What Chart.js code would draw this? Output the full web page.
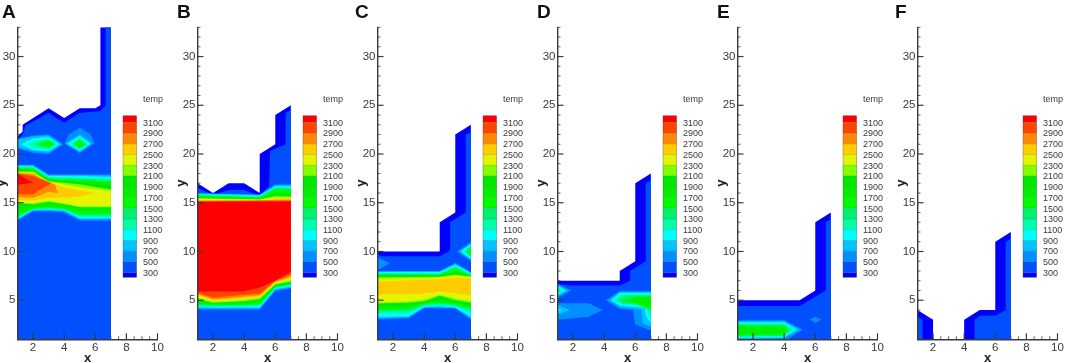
<!DOCTYPE html>
<html lang="en">
<head>
<meta charset="UTF-8">
<title>Temperature contours</title>
<style>
    body { margin: 0; background: #fff; overflow: hidden; }
    #page { position: relative; width: 1065px; height: 363px; overflow: hidden; }
    canvas { position: absolute; top: 0; filter: blur(0.45px); }
</style>
</head>
<body>
<div id="page"></div>
<script src="https://cdn.jsdelivr.net/npm/chart.js"></script>
<script>
const letters = ['A', 'B', 'C', 'D', 'E', 'F'];
const xTicks = [2, 4, 6, 8, 10];
const yTicks = [5, 10, 15, 20, 25, 30];
const xMinor = [1.5, 2.5, 3, 3.5, 4.5, 5, 5.5, 6.5, 7, 7.5, 8.5, 9, 9.5];
const yMinor = [2, 3, 4, 6, 7, 8, 9, 11, 12, 13, 14, 16, 17, 18, 19, 21, 22, 23, 24, 26, 27, 28, 29, 31, 32, 33];
const levels = [3100, 2900, 2700, 2500, 2300, 2100, 1900, 1700, 1500, 1300, 1100, 900, 700, 500, 300];

// band colour by lower temperature of the band, 100 = below 300
const bandColors = {
    3100: '#ff0000', 2900: '#ff4400', 2700: '#ff8800', 2500: '#ffcc00', 2300: '#e4f500',
    2100: '#80ff00', 1900: '#00e800', 1700: '#00f000', 1500: '#00fa00', 1300: '#00f070',
    1100: '#00ffaa', 900: '#00ffff', 700: '#00c4ff', 500: '#0090ff', 300: '#0050ff', 100: '#0000ff'
};

// contour regions: [band, [x, y, x, y, ...]], painted in this order
const bandsA = [
    [100, [1,1, 7,1, 7,33, 6.33,33, 6.33,25, 6,24.7, 5,24.7, 4,23.7, 3,24.7, 1.33,23, 1.33,22.3, 1,21.8]],
    [300, [1,1, 7,1, 7,33, 6.67,33, 6.67,25, 6.33,24.4, 5,24.2, 4,23.2, 3,24.2, 1.5,22.9, 1.33,22, 1,21.4]],
    [500, [1,21.6, 2,21.9, 3,22, 3.95,21, 3,20, 2,20.1, 1,20.6]],
    [700, [1,21.5, 2,21.8, 3,21.9, 3.85,21, 3,20.15, 2,20.3, 1,20.7]],
    [900, [1.2,21, 2,21.6, 3,21.75, 3.7,21, 3,20.3, 2,20.4]],
    [1100, [1.6,21, 2.2,21.4, 3,21.6, 3.55,21, 3,20.45, 2.2,20.6]],
    [1300, [2,21, 2.5,21.3, 3,21.45, 3.45,21, 3,20.6, 2.5,20.75]],
    [1500, [2.3,21, 3,21.35, 3.4,21, 3,20.7]],
    [500, [4.05,21.2, 4.3,22, 5,22.7, 5.7,22, 5.95,21.1, 5,20.1, 4.05,21]],
    [700, [4.1,21.1, 5,22, 5.8,21.1, 5,20.2]],
    [900, [4.2,21.05, 5,21.85, 5.7,21.05, 5,20.3]],
    [1100, [4.4,21, 5,21.7, 5.55,21, 5,20.45]],
    [1300, [4.55,21, 5,21.55, 5.45,21, 5,20.55]],
    [1500, [4.65,21, 5,21.45, 5.35,21, 5,20.7]],
    [500, [1,18.9, 2,18.9, 3,17.9, 7,17.9, 7,13.15, 5,13.15, 4,14, 3,14.1, 2,14.1, 1,13.15]],
    [700, [1,18.85, 2,18.85, 3,17.85, 5,17.85, 7,17.8, 7,13.3, 5,13.3, 4,14.1, 3,14.2, 2,14.2, 1,13.25]],
    [900, [1,18.8, 2,18.75, 3,17.75, 5,17.75, 7,17.65, 7,13.4, 5,13.4, 4,14.2, 3,14.3, 2,14.25, 1,13.35]],
    [1100, [1,18.7, 2,18.7, 3,17.65, 5,17.6, 7,17.45, 7,13.55, 5,13.55, 4,14.25, 3,14.35, 2,14.3, 1,13.45]],
    [1300, [1,18.6, 2,18.6, 3,17.55, 5,17.45, 7,17.3, 7,13.7, 5,13.7, 4,14.3, 3,14.45, 2,14.35, 1,13.55]],
    [1500, [1,18.55, 2,18.55, 3,17.45, 5,17.3, 7,17.2, 7,13.85, 5,13.85, 4,14.4, 3,14.5, 2,14.4, 1,13.65]],
    [1700, [1,18.45, 2,18.4, 3,17.4, 5,17.25, 7,17.05, 7,14.1, 5,14.2, 4,14.55, 3,14.7, 2,14.55, 1,14]],
    [1900, [1,18.3, 2,18.25, 3,17.3, 5,17.1, 7,16.8, 7,14.4, 5,14.4, 4,14.75, 3,14.95, 2,14.75, 1,14.6]],
    [2100, [1,18.2, 2,18.2, 3,17.2, 5,16.9, 7,16.35, 7,14.55, 5,14.55, 4,14.85, 3,15.1, 2,14.85, 1,14.95]],
    [2300, [1,18.12, 2,18.1, 3,17.15, 5,16.6, 7,16.2, 7,14.65, 5,14.65, 4,14.95, 3,15.2, 2,14.95, 1,15.05]],
    [2500, [1,18.08, 2,18, 3,17.1, 4,16.6, 5,16.25, 6,16, 5,15.65, 4,15.5, 3,15.5, 2,15.2, 1,15.3]],
    [2700, [1,18.05, 2,17.95, 3,17.05, 3.4,16.9, 3.6,16, 3,16.1, 2,15.5, 1,15.6]],
    [2900, [1,18, 2,17.75, 3.2,17, 2.4,16.3, 2,15.85, 1,15.9]],
    [3100, [1,18, 1.3,17.7, 2,17.05, 1,16.85]]
];
const bandsB = [
    [100, [1,1, 7,1, 7,25, 6,24, 6,21, 5,20, 5,16, 4,17, 3,17, 2,16, 1,17]],
    [300, [1,1, 7,1, 7,24.5, 6.67,24.2, 6.67,21, 5.67,20.3, 5.6,16.7, 5,15.7, 4,16.3, 3,16.3, 2,15.8, 1,16.5]],
    [500, [1,16, 2,15.95, 5,15.85, 6,16.9, 7,16.9, 7,6.2, 6,5.95, 5,4.05, 1,4.05]],
    [700, [1,15.95, 5,15.8, 6,16.8, 7,16.8, 7,6.3, 6,6.05, 5,4.15, 1,4.15]],
    [900, [1,15.9, 5,15.75, 6,16.7, 7,16.7, 7,6.4, 6,6.15, 5,4.25, 2,4.25, 1,4.3]],
    [1100, [1,15.85, 5,15.7, 6,16.6, 7,16.6, 7,6.5, 6,6.25, 5,4.4, 2,4.35, 1,4.4]],
    [1300, [1,15.8, 5,15.6, 6,16.5, 7,16.45, 7,6.6, 6,6.3, 5,4.5, 2,4.4, 1,4.5]],
    [1500, [1,15.75, 5,15.5, 6,16.3, 7,16.3, 7,6.65, 6,6.4, 5,4.6, 4,4.5, 2,4.5, 1,4.6]],
    [1700, [1,15.6, 5,15.45, 6,16.1, 7,16.1, 7,6.7, 6,6.45, 5,4.75, 4,4.65, 2,4.6, 1,4.75]],
    [1900, [1,15.5, 5,15.4, 6,15.9, 7,15.85, 7,6.8, 6,6.5, 5,4.95, 4,4.75, 2,4.7, 1,4.9]],
    [2100, [1,15.45, 5,15.35, 6,15.7, 7,15.65, 7,6.9, 6,6.6, 5,5.1, 4,4.9, 2,4.75, 1,5.1]],
    [2300, [1,15.4, 5,15.3, 6,15.55, 7,15.5, 7,7.05, 6,6.7, 5,5.25, 4,5.05, 3,4.95, 2,4.85, 1,5.3]],
    [2500, [1,15.3, 5,15.2, 6,15.4, 7,15.4, 7,7.25, 6,6.8, 5,5.35, 4,5.2, 3,5.05, 2,4.95, 1,5.5]],
    [2700, [1,15.2, 7,15.3, 7,7.4, 6,6.9, 5,5.5, 4,5.35, 3,5.2, 2,5.1, 1,5.6]],
    [2900, [1,15.15, 7,15.2, 7,7.6, 6,7, 5,5.65, 4,5.55, 3,5.4, 2,5.25, 1,5.75]],
    [3100, [1,15.1, 7,15.15, 7,7.9, 6,7, 5,6.3, 4,5.9, 1,5.9]]
];
const bandsC = [
    [100, [1,1, 7,1, 7,23, 6,22, 6,14, 5,13, 5,10, 1,10]],
    [300, [1,1, 7,1, 7,22.2, 6.67,22, 6.67,14, 5.67,13, 5.67,10.1, 5,9.5, 1.3,9.5, 1,9.7]],
    [500, [1,9.4, 1.8,8.8, 1,8.1]],
    [500, [7,11, 6.1,10, 7,9]],
    [900, [7,10.8, 6.3,10, 7,9.2]],
    [1300, [7,10.6, 6.6,10, 7,9.4]],
    [1500, [7,10.4, 6.8,10, 7,9.6]],
    [500, [1,8, 5,8, 6,8.85, 7,7.9, 7,3, 6,4.15, 4,4.2, 3,3.15, 1,3.05]],
    [700, [1,7.95, 5,7.95, 6,8.75, 7,7.85, 7,3.15, 6,4.2, 4,4.25, 3,3.25, 1,3.15]],
    [900, [1,7.9, 5,7.9, 6,8.65, 7,7.8, 7,3.3, 6,4.25, 5,4.4, 4,4.3, 3,3.35, 1,3.3]],
    [1100, [1,7.8, 5,7.8, 6,8.5, 7,7.7, 7,3.75, 6,4.35, 5,4.5, 4,4.4, 3,3.65, 1,3.6]],
    [1300, [1,7.7, 5,7.7, 6,8.4, 7,7.6, 7,4, 6,4.45, 5,4.6, 4,4.5, 3,3.9, 1,3.85]],
    [1500, [1,7.65, 5,7.6, 6,8.2, 7,7.55, 7,4.2, 6,4.55, 5,4.75, 4,4.6, 3,4.1, 1,4]],
    [1700, [1,7.6, 5,7.55, 6,8, 7,7.5, 7,4.35, 6,4.65, 5,4.95, 4,4.7, 3,4.3, 1,4.2]],
    [1900, [1,7.5, 5,7.5, 6,7.85, 7,7.45, 7,4.55, 6,4.8, 5,5.2, 4,4.8, 3,4.5, 1,4.4]],
    [2100, [1,7.35, 5,7.4, 6,7.65, 7,7.42, 7,4.75, 6,5, 5,5.45, 4,4.9, 3,4.75, 1,4.65]],
    [2300, [1,7.2, 5,7.35, 6,7.5, 7,7.4, 7,4.9, 6,5.2, 5,5.55, 4,5.05, 3,4.9, 1,4.8]],
    [2500, [1,6.9, 4,7.1, 5,7.15, 6,7.3, 7,7.25, 7,5.55, 6,5.7, 5,5.9, 4,5.7, 3,5.6, 1,5.6]]
];
const bandsD = [
    [100, [1,1, 7,1, 7,18, 6,17, 6,9, 5,8, 5,7, 1,7]],
    [300, [1,1, 7,1, 7,17.3, 6.67,17, 6.67,9, 5.67,8, 5.67,7, 5,6.5, 2,6.5, 1.1,6.6, 1,6.7]],
    [500, [1,6.7, 1.9,6, 1,5.2]],
    [700, [1,6.6, 1.7,6, 1,5.35]],
    [900, [1,6.5, 1.5,6, 1,5.5]],
    [1100, [1,6.35, 1.3,6, 1,5.65]],
    [1500, [1,6.2, 1.15,6, 1,5.85]],
    [500, [1,4.7, 3,4.7, 3.9,4, 3,3.3, 1,3]],
    [700, [1,4.5, 1.8,4, 1,3.5]],
    [900, [1,4.2, 1.3,4, 1,3.8]],
    [500, [4.1,5, 5,5.95, 7,5.95, 7,1.9, 6.5,2.2, 6,2.5, 5.85,4, 5,4.1]],
    [700, [4.3,5, 5,5.85, 7,5.85, 7,2.3, 6.5,2.6, 6.4,4, 6,4.1, 5,4.3]],
    [900, [4.45,5, 5,5.75, 7,5.75, 7,2.7, 6.7,3.3, 6.6,4.2, 6,4.3, 5,4.45]],
    [1100, [4.65,5, 5,5.6, 7,5.6, 7,3.1, 6.8,4, 6,4.5, 5.2,4.55]],
    [1300, [4.85,5, 5.2,5.45, 7,5.5, 7,3.6, 6.9,4.2, 6,4.6, 5.2,4.65]],
    [1500, [5.2,5, 6,5.35, 7,5.4, 7,4, 6,4.7]],
    [1700, [5.6,5, 6,5.3, 7,5.3, 7,4.3, 6,4.8]]
];
const bandsE = [
    [100, [1,1, 7,1, 7,14, 6,13, 6,6, 5,5, 1,5]],
    [300, [1,1, 7,1, 7,13.3, 6.67,13, 6.67,6, 5,4.4, 1,4.4]],
    [500, [5.65,3, 6,3.3, 6.4,3, 6,2.7]],
    [500, [1,2.95, 4,2.95, 5.2,2, 4.3,1.05, 4,1, 1,1]],
    [700, [1,2.85, 4,2.85, 5,2, 4,1.1, 1,1.05]],
    [900, [1,2.75, 4,2.75, 4.8,2, 4,1.2, 1,1.15]],
    [1100, [1,2.6, 4,2.6, 4.6,2, 4,1.3, 1,1.25]],
    [1300, [1,2.5, 4,2.5, 4.4,2, 4,1.35, 1,1.3]],
    [1500, [1,2.4, 4,2.35, 4.2,2, 4,1.45, 1,1.4]],
    [1700, [1,2.3, 3,2.25, 4,2.1, 4.05,2, 4,1.6, 3,1.5, 1,1.5]]
];
const bandsF = [
    [100, [1,1, 2,1, 2,3, 1,4]],
    [100, [4,1, 7,1, 7,12, 6,11, 6,4, 5,4, 4,3]],
    [300, [1,1, 1.33,1, 1.33,3, 1,3.3]],
    [300, [4.67,1, 7,1, 7,11.3, 6.67,11, 6.67,4, 6,3.4, 5,3.4, 4.67,3]]
];
const panels = [bandsA, bandsB, bandsC, bandsD, bandsE, bandsF];

const INK = '#3a3a3a';
const FONT = 'Liberation Sans, Arial, sans-serif';
const letterX = [8, 3, 1, 3, 3, 1];

const stroke = (ctx, x1, y1, x2, y2, w) => {
    ctx.lineWidth = w;
    ctx.beginPath();
    ctx.moveTo(x1, y1);
    ctx.lineTo(x2, y2);
    ctx.stroke();
};

const annotate = {
    id: 'annotate',
    // minor ticks only show where there is no fill on top of them
    beforeDatasetsDraw(chart) {
        const ctx = chart.ctx;
        const sx = chart.scales.x, sy = chart.scales.y;
        ctx.save();
        ctx.strokeStyle = INK;
        xMinor.forEach(v => stroke(ctx, sx.getPixelForValue(v), sy.bottom, sx.getPixelForValue(v), sy.bottom - 3, 0.8));
        yMinor.forEach(v => stroke(ctx, sx.left, sy.getPixelForValue(v), sx.left + 3, sy.getPixelForValue(v), 0.8));
        ctx.restore();
    },
    afterDatasetsDraw(chart) {
        const ctx = chart.ctx;
        const sx = chart.scales.x, sy = chart.scales.y;
        ctx.save();
        ctx.strokeStyle = INK;
        xTicks.forEach(v => stroke(ctx, sx.getPixelForValue(v), sy.bottom, sx.getPixelForValue(v), sy.bottom - 6, 1.2));
        yTicks.forEach(v => stroke(ctx, sx.left, sy.getPixelForValue(v), sx.left + 6, sy.getPixelForValue(v), 1.2));

        // contour legend
        const barL = sx.left + 105.5, barW = 13.6, first = 122.4, step = 10.73;
        const top = 115.7, bottom = 277.3;
        const bands = [3100].concat(levels.slice(1), [100]);
        bands.forEach((b, i) => {
            const y0 = i === 0 ? top : first + (i - 1) * step;
            const y1 = i === bands.length - 1 ? bottom : first + i * step;
            ctx.fillStyle = bandColors[b];
            ctx.fillRect(barL, y0, barW, y1 - y0);
        });
        ctx.strokeStyle = 'rgba(50,50,50,0.45)';
        ctx.lineWidth = 0.7;
        ctx.strokeRect(barL, top, barW, bottom - top);
        levels.forEach((v, i) => stroke(ctx, barL, first + i * step, barL + barW, first + i * step, 0.5));

        ctx.fillStyle = INK;
        ctx.textBaseline = 'middle';
        ctx.textAlign = 'left';
        ctx.font = '9px ' + FONT;
        ctx.fillText('temp', sx.left + 125.5, 99.5);
        levels.forEach((v, i) => ctx.fillText(String(v), sx.left + 125.5, first + 0.8 + i * step));

        ctx.fillStyle = '#111';
        ctx.font = 'bold 19px ' + FONT;
        ctx.textBaseline = 'alphabetic';
        const idx = chart.options.panelIndex;
        ctx.fillText(letters[idx], letterX[idx], 17.5);
        ctx.restore();
    }
};

const page = document.getElementById('page');
panels.forEach((bands, i) => {
    const canvas = document.createElement('canvas');
    canvas.width = 190;
    canvas.height = 363;
    canvas.style.left = (180 * i - 6) + 'px';
    page.appendChild(canvas);

    // later regions sit on top, chart.js paints the last dataset first
    const datasets = bands.map(([band, pts]) => {
        const data = [];
        for (let k = 0; k < pts.length; k += 2) data.push({ x: pts[k], y: pts[k + 1] });
        return {
            data,
            showLine: true,
            fill: 'shape',
            backgroundColor: bandColors[band],
            borderWidth: 0,
            pointRadius: 0
        };
    }).reverse();

    new Chart(canvas, {
        type: 'scatter',
        data: { datasets },
        plugins: [annotate],
        options: {
            panelIndex: i,
            responsive: false,
            animation: false,
            layout: { padding: { left: 0, right: 26.5, top: 27.3, bottom: 0 } },
            plugins: { legend: { display: false }, tooltip: { enabled: false } },
            scales: {
                x: {
                    type: 'linear',
                    min: 1,
                    max: 10,
                    afterBuildTicks: s => { s.ticks = xTicks.map(value => ({ value })); },
                    afterFit: s => { s.height = 23.8; },
                    grid: { display: false, drawTicks: false },
                    border: { color: INK, width: 1.4, z: 1 },
                    ticks: { color: INK, font: { size: 11.5, family: FONT }, padding: 2, maxRotation: 0 },
                    title: { display: true, text: 'x', color: '#222', font: { size: 13, weight: 'bold', family: FONT, lineHeight: 0.75 }, padding: 0 }
                },
                y: {
                    type: 'linear',
                    min: 1,
                    max: 33,
                    afterBuildTicks: s => { s.ticks = yTicks.map(value => ({ value })); },
                    afterFit: s => { s.width = 23.5; },
                    grid: { display: false, drawTicks: false },
                    border: { color: INK, width: 1.4, z: 1 },
                    ticks: { color: INK, font: { size: 11.5, family: FONT }, padding: 2 },
                    title: { display: true, text: 'y', color: '#222', font: { size: 13, weight: 'bold', family: FONT }, padding: 0 }
                }
            }
        }
    });
});
</script>
</body>
</html>
